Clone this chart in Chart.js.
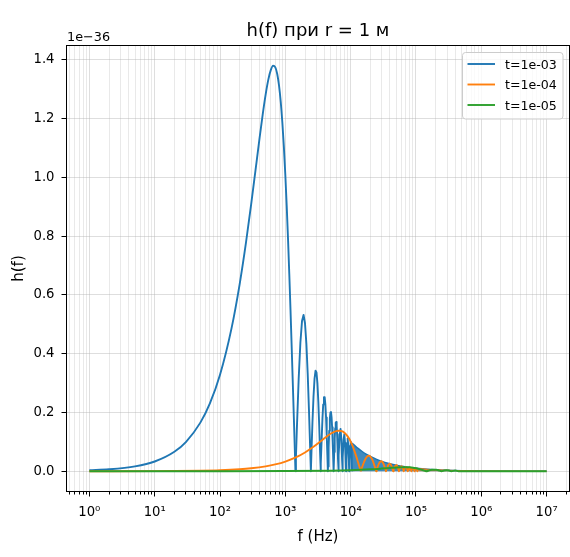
<!DOCTYPE html>
<html><head><meta charset="utf-8">
<script src="https://cdn.jsdelivr.net/npm/chart.js@4.4.1/dist/chart.umd.min.js"></script>
<style>html,body{margin:0;padding:0;background:#fff;}canvas{display:block;}</style>
</head><body>
<canvas id="c" width="570" height="557"></canvas>
<script>
const chartTitle = 'h(f) при r = 1 м';
const xAxisLabel = 'f (Hz)';
const yAxisLabel = 'h(f)';
const yOffsetText = '1e\u221236';
const seriesLabels = ['t=1e-03', 't=1e-04', 't=1e-05'];
const seriesColors = ['#1f77b4', '#ff7f0e', '#2ca02c'];

// t = 1e-03 : main lobe (smooth part)
const blueLowF = [1,2,5,10,20,30,50,70,100,150,200,250,300,350,400,450,500,550,600,650,700,750,800,850,900,950,1000,1050,1100,1150,1200,1250,1300,1350,1400,1430];
const blueLowH = [0.0033,0.0066,0.0166,0.0331,0.0662,0.0993,0.1653,0.2308,0.3281,0.4861,0.6369,0.7783,0.9085,1.0254,1.1275,1.2135,1.2823,1.3332,1.3656,1.3795,1.3750,1.3526,1.3129,1.2572,1.1866,1.1027,1.0071,0.9019,0.7889,0.6703,0.5481,0.4246,0.3019,0.1820,0.0668,0];
// t = 1e-03 : side lobes
const blueLobeF = [1430,1450,1500,1600,1700,1800,1900,2000,2100,2200,2300,2400,2459,2500,2600,2700,2800,2900,3000,3100,3200,3300,3400,3471,3500,3600,3700,3800,3900,4000,4100,4200,4300,4400,4477,4500,4600,4700,4800,4900,5000,5100,5200,5300,5400,5482,5600,5700,5800,5900,6000,6100,6200,6300,6400,6484,6600,6800,7000,7200,7400,7487,7600,7800,8000,8200,8400,8489,8600,8800,9000,9200,9400,9490,9600,9800,10000,10200,10400,10491];
const blueLobeH = [0,0.0420,0.1425,0.3136,0.4380,0.5108,0.5316,0.5036,0.4337,0.3314,0.2084,0.0767,0,0.0513,0.1648,0.2548,0.3150,0.3421,0.3357,0.2987,0.2362,0.1556,0.0652,0,0.0262,0.1100,0.1790,0.2275,0.2521,0.2518,0.2277,0.1833,0.1237,0.0550,0,0.0158,0.0821,0.1377,0.1779,0.1996,0.2014,0.1840,0.1497,0.1025,0.0472,0,0.0653,0.1118,0.1461,0.1652,0.1679,0.1544,0.1265,0.0874,0.0412,0,0.0541,0.1239,0.1439,0.1095,0.0365,0,0.0462,0.1076,0.1259,0.0965,0.0327,0,0.0403,0.0950,0.1119,0.0863,0.0296,0,0.0358,0.0851,0.1007,0.0781,0.0271,0];
// t = 1e-03 : dense oscillation band (upper envelope)
const blueBandF = [10491,11000,12000,13000,15000,17500,20000,25000,30000,40000,50000,60000,70000,85000,100000,150000,200000,300000,500000,1000000,10000000];
const blueBandH = [0.0960,0.0916,0.0839,0.0775,0.0671,0.0575,0.0504,0.0403,0.0336,0.0252,0.0201,0.0168,0.0144,0.0118,0.0101,0.0067,0.0050,0.0034,0.0020,0.0010,0.0001];

// t = 1e-04 : main lobe
const orangeLowF = [1,10,20,50,100,200,300,500,700,1000,1500,2000,2500,3000,3500,4000,4500,5000,5500,6000,6500,7000,7500,8000,8500,9000,9500,10000,10500,11000,11500,12000,12500,13000,13500,14000,14300];
const orangeLowH = [0,0.00033,0.00066,0.00166,0.00331,0.00662,0.00993,0.01653,0.02308,0.03281,0.04861,0.06369,0.07783,0.09085,0.10254,0.11275,0.12135,0.12823,0.13332,0.13656,0.13795,0.13750,0.13526,0.13129,0.12572,0.11866,0.11027,0.10071,0.09019,0.07889,0.06703,0.05481,0.04246,0.03019,0.01820,0.00668,0];
// t = 1e-04 : side lobes
const orangeLobeF = [14300,14500,15000,16000,17000,18000,19000,20000,21000,22000,23000,24000,24590,25000,26000,27000,28000,29000,30000,31000,32000,33000,34000,34710,35000,36000,37000,38000,39000,40000,41000,42000,43000,44000,44770,45000,46000,47000,48000,49000,50000,51000,52000,53000,54000,54820,56000,57000,58000,59000,60000,61000,62000,63000,64000,64840,66000,68000,70000,72000,74000,74870,76000,78000,80000,82000,84000,84890,86000,88000,90000,92000,94000,94900,96000,98000,100000,102000,104000,104910];
const orangeLobeH = [0,0.00420,0.01425,0.03136,0.04380,0.05108,0.05316,0.05036,0.04337,0.03314,0.02084,0.00767,0,0.00513,0.01648,0.02548,0.03150,0.03421,0.03357,0.02987,0.02362,0.01556,0.00652,0,0.00262,0.01100,0.01790,0.02275,0.02521,0.02518,0.02277,0.01833,0.01237,0.00550,0,0.00158,0.00821,0.01377,0.01779,0.01996,0.02014,0.01840,0.01497,0.01025,0.00472,0,0.00653,0.01118,0.01461,0.01652,0.01679,0.01544,0.01265,0.00874,0.00412,0,0.00541,0.01239,0.01439,0.01095,0.00365,0,0.00462,0.01076,0.01259,0.00965,0.00327,0,0.00403,0.00950,0.01119,0.00863,0.00296,0,0.00358,0.00851,0.01007,0.00781,0.00271,0];
const orangeBandF = [104910,120000,150000,200000,300000,500000,1000000,10000000];
const orangeBandH = [0.0096,0.0084,0.0067,0.0050,0.0034,0.0020,0.0010,0.0001];

// t = 1e-05
const greenF = [1,100,1000,5000,10000,20000,30000,40000,50000,60000,65000,70000,80000,90000,100000,110000,120000,130000,143000,160000,175000,190000,205000,220000,246000,270000,293000,320000,347000,400000,448000,1000000,10000000];
const greenH = [0,0.00003,0.00033,0.00166,0.00331,0.00637,0.00909,0.01128,0.01282,0.01366,0.01380,0.01375,0.01313,0.01187,0.01007,0.00789,0.00548,0.00302,0,0.00314,0.00477,0.00532,0.00470,0.00331,0,0.00255,0.00342,0.00236,0,0.00252,0,0,0];

// axes
const xMin = 0.4467, xMax = 22387211;
const yMin = -0.069, yMax = 1.4485;
const xDecades = [1,10,100,1000,10000,100000,1000000,10000000];
const xTickLabels = ['10\u2070','10\u00b9','10\u00b2','10\u00b3','10\u2074','10\u2075','10\u2076','10\u2077'];
const yTickValues = [0,0.2,0.4,0.6,0.8,1.0,1.2,1.4];
const yTickLabels = ['0.0','0.2','0.4','0.6','0.8','1.0','1.2','1.4'];

const FONT = '"DejaVu Sans", sans-serif';
const TICK_SIZE = 13.2;
const pts = (F, H) => F.map((f, i) => ({x: f, y: H[i]}));

const xTicks = [];
[0.1,1,10,100,1000,10000,100000,1000000,10000000].forEach(d => {
  for (let m = 1; m <= 9; m++) {
    const v = m === 1 ? d : parseFloat((m * d).toPrecision(6));
    if (v >= xMin && v <= xMax) xTicks.push({value: v, major: m === 1});
  }
});

const gridMajor = 'rgba(176,176,176,0.42)';
const gridMinor = 'rgba(176,176,176,0.28)';

const decor = {
  id: 'decor',
  afterDraw(chart) {
    const {ctx, chartArea: a, scales: {x, y}} = chart;
    ctx.save();
    // legend
    const lx = 462.5, ly = 52.5, lw = 100.5, lh = 66.5, r = 3;
    ctx.beginPath();
    ctx.moveTo(lx + r, ly); ctx.lineTo(lx + lw - r, ly); ctx.quadraticCurveTo(lx + lw, ly, lx + lw, ly + r);
    ctx.lineTo(lx + lw, ly + lh - r); ctx.quadraticCurveTo(lx + lw, ly + lh, lx + lw - r, ly + lh);
    ctx.lineTo(lx + r, ly + lh); ctx.quadraticCurveTo(lx, ly + lh, lx, ly + lh - r);
    ctx.lineTo(lx, ly + r); ctx.quadraticCurveTo(lx, ly, lx + r, ly); ctx.closePath();
    ctx.fillStyle = 'rgba(255,255,255,0.8)'; ctx.fill();
    ctx.strokeStyle = '#cccccc'; ctx.lineWidth = 1; ctx.stroke();
    const rows = [64, 84.5, 105];
    ctx.font = '12.6px ' + FONT; ctx.textAlign = 'left'; ctx.textBaseline = 'alphabetic';
    seriesLabels.forEach((lab, i) => {
      ctx.strokeStyle = seriesColors[i]; ctx.lineWidth = 1.9;
      ctx.beginPath(); ctx.moveTo(467.5, rows[i]); ctx.lineTo(495, rows[i]); ctx.stroke();
      ctx.fillStyle = '#000'; ctx.fillText(lab, 505, rows[i] + 4.5);
    });
    // spines
    ctx.strokeStyle = '#000'; ctx.lineWidth = 1;
    ctx.strokeRect(a.left, a.top, a.right - a.left, a.bottom - a.top);
    // tick marks
    ctx.beginPath();
    x.ticks.forEach(t => {
      const p = Math.round(x.getPixelForValue(t.value) - 0.5) + 0.5;
      ctx.moveTo(p, a.bottom); ctx.lineTo(p, a.bottom + (t.major ? 5 : 3));
    });
    y.ticks.forEach(t => {
      const p = Math.round(y.getPixelForValue(t.value) - 0.5) + 0.5;
      ctx.moveTo(a.left, p); ctx.lineTo(a.left - 5, p);
    });
    ctx.stroke();
    // texts
    ctx.fillStyle = '#000';
    ctx.font = '18px ' + FONT; ctx.textAlign = 'center'; ctx.textBaseline = 'alphabetic';
    ctx.fillText(chartTitle, (a.left + a.right) / 2, 35.5);
    ctx.font = '12.8px ' + FONT; ctx.textAlign = 'left';
    ctx.fillText(yOffsetText, 67, 40.5);
    ctx.font = '15px ' + FONT; ctx.textAlign = 'center';
    ctx.fillText(xAxisLabel, (a.left + a.right) / 2, 541);
    ctx.translate(19, (a.top + a.bottom) / 2); ctx.rotate(-Math.PI / 2);
    ctx.textBaseline = 'middle';
    ctx.fillText(yAxisLabel, 0, 0);
    ctx.restore();
  }
};

const lineDs = (label, F, H, color, w, order, smooth) => ({
  label, data: pts(F, H), borderColor: color, borderWidth: w, order, fill: false,
  cubicInterpolationMode: smooth ? 'monotone' : 'default'
});
const bandDs = (label, F, H, color, fillColor, w, order) => ({
  label, data: pts(F, H), borderColor: color, borderWidth: w, backgroundColor: fillColor,
  fill: 'origin', cubicInterpolationMode: 'monotone', order
});

new Chart(document.getElementById('c'), {
  type: 'line',
  data: {
    datasets: [
      lineDs(seriesLabels[2], greenF, greenH, seriesColors[2], 2, 0, true),
      lineDs(seriesLabels[1], orangeLowF, orangeLowH, seriesColors[1], 1.9, 1, true),
      lineDs(seriesLabels[1], orangeLobeF, orangeLobeH, seriesColors[1], 1.9, 2, false),
      bandDs(seriesLabels[1], orangeBandF, orangeBandH, seriesColors[1], 'rgba(255,127,14,0.6)', 1, 3),
      lineDs(seriesLabels[0], blueLowF, blueLowH, seriesColors[0], 1.9, 4, true),
      lineDs(seriesLabels[0], blueLobeF, blueLobeH, seriesColors[0], 1.9, 5, false),
      bandDs(seriesLabels[0], blueBandF, blueBandH, seriesColors[0], 'rgba(31,119,180,0.85)', 1.5, 6)
    ]
  },
  options: {
    responsive: false, animation: false, devicePixelRatio: 1, events: [],
    layout: {padding: {top: 45.5, right: 0.5, bottom: 0, left: 0}},
    elements: {point: {radius: 0}, line: {borderJoinStyle: 'round', tension: 0}},
    plugins: {legend: {display: false}, tooltip: {enabled: false}, title: {display: false}},
    scales: {
      x: {
        type: 'logarithmic', min: xMin, max: xMax,
        afterBuildTicks: s => { s.ticks = xTicks.map(t => ({value: t.value, major: t.major})); },
        afterFit: s => { s.height = 65.5; s.paddingLeft = 0; s.paddingRight = 0; },
        ticks: {
          autoSkip: false, maxRotation: 0, minRotation: 0, padding: 13.5, color: '#000',
          font: {family: FONT, size: TICK_SIZE},
          callback: v => { const i = xDecades.indexOf(v); return i >= 0 ? xTickLabels[i] : ''; }
        },
        grid: {
          drawTicks: false,
          color: c => (c.tick && c.tick.major) ? gridMajor : gridMinor,
          lineWidth: 1
        },
        border: {display: false}
      },
      y: {
        type: 'linear', min: yMin, max: yMax,
        afterBuildTicks: s => { s.ticks = yTickValues.map(v => ({value: v})); },
        afterFit: s => { s.width = 66.5; s.paddingTop = 0; s.paddingBottom = 0; },
        ticks: {
          autoSkip: false, padding: 12, color: '#000',
          font: {family: FONT, size: TICK_SIZE},
          callback: v => { const i = yTickValues.findIndex(t => Math.abs(t - v) < 1e-9); return i >= 0 ? yTickLabels[i] : ''; }
        },
        grid: {drawTicks: false, color: gridMajor, lineWidth: 1},
        border: {display: false}
      }
    }
  },
  plugins: [decor]
});
</script>
</body></html>
